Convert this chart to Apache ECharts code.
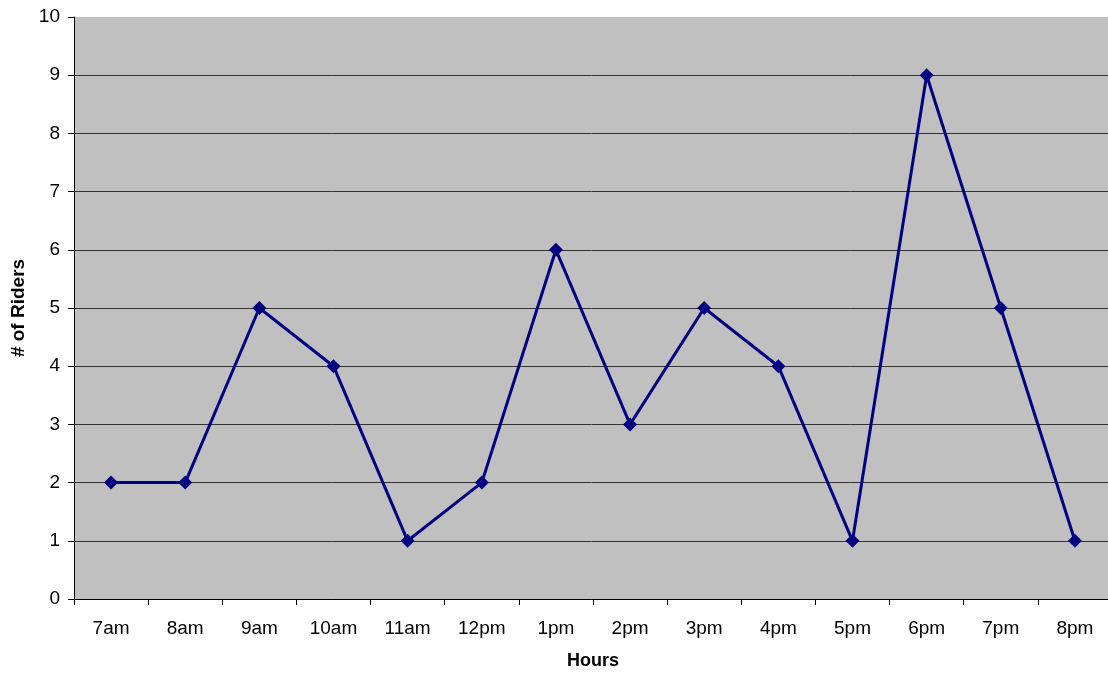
<!DOCTYPE html>
<html>
<head>
<meta charset="utf-8">
<script src="https://cdn.jsdelivr.net/npm/echarts@6/dist/echarts.min.js"></script>
<style>
  html, body { margin: 0; padding: 0; background: #fff; }
  #chart { width: 1108px; height: 675px; }
</style>
</head>
<body>
<div id="chart"></div>
<script>
// Riders counted per hour of the day
const hours = ['7am', '8am', '9am', '10am', '11am', '12pm', '1pm', '2pm', '3pm', '4pm', '5pm', '6pm', '7pm', '8pm'];
const riders = [2, 2, 5, 4, 1, 2, 6, 3, 5, 4, 1, 9, 5, 1];

const FONT = '"Liberation Sans", Arial, sans-serif';

// Gridlines for 0..9 are dark; the one at the top (10) is left out.
const gridColors = ['#333', '#333', '#333', '#333', '#333', '#333', '#333', '#333', '#333', '#333', 'rgba(0,0,0,0)'];

const chart = echarts.init(document.getElementById('chart'), null, { renderer: 'canvas' });
chart.setOption({
  animation: false,
  backgroundColor: '#ffffff',
  grid: {
    left: 74, right: -4, top: 17, bottom: 76,
    outerBoundsMode: 'none',
    containLabel: false,
    show: true, backgroundColor: '#C0C0C0', borderWidth: 0
  },
  xAxis: {
    type: 'category',
    data: hours,
    boundaryGap: true,
    name: 'Hours',
    nameLocation: 'middle',
    nameGap: 53,
    nameTextStyle: { fontFamily: FONT, fontSize: 18, fontWeight: 'bold', color: '#000' },
    axisLine: { show: true, lineStyle: { color: '#000', width: 1 } },
    axisTick: { show: true, alignWithLabel: false, length: 6, lineStyle: { color: '#000' } },
    axisLabel: { fontFamily: FONT, fontSize: 19, color: '#000', margin: 20 },
    splitLine: { show: false }
  },
  yAxis: {
    type: 'value',
    min: 0, max: 10, interval: 1,
    name: '# of Riders',
    nameLocation: 'middle',
    nameGap: 45,
    nameTextStyle: { fontFamily: FONT, fontSize: 19, fontWeight: 'bold', color: '#000' },
    axisLine: { show: true, lineStyle: { color: '#000', width: 1 } },
    axisTick: { show: true, length: 6, lineStyle: { color: '#000' } },
    axisLabel: { fontFamily: FONT, fontSize: 19, color: '#000', margin: 14, padding: [4, 0, 0, 0] },
    splitLine: { show: true, lineStyle: { color: gridColors, width: 1 } }
  },
  series: [{
    type: 'line',
    data: riders,
    symbol: 'diamond',
    symbolSize: 14,
    lineStyle: { color: '#000080', width: 3 },
    itemStyle: { color: '#000080' },
    z: 5
  }]
});
</script>
</body>
</html>
